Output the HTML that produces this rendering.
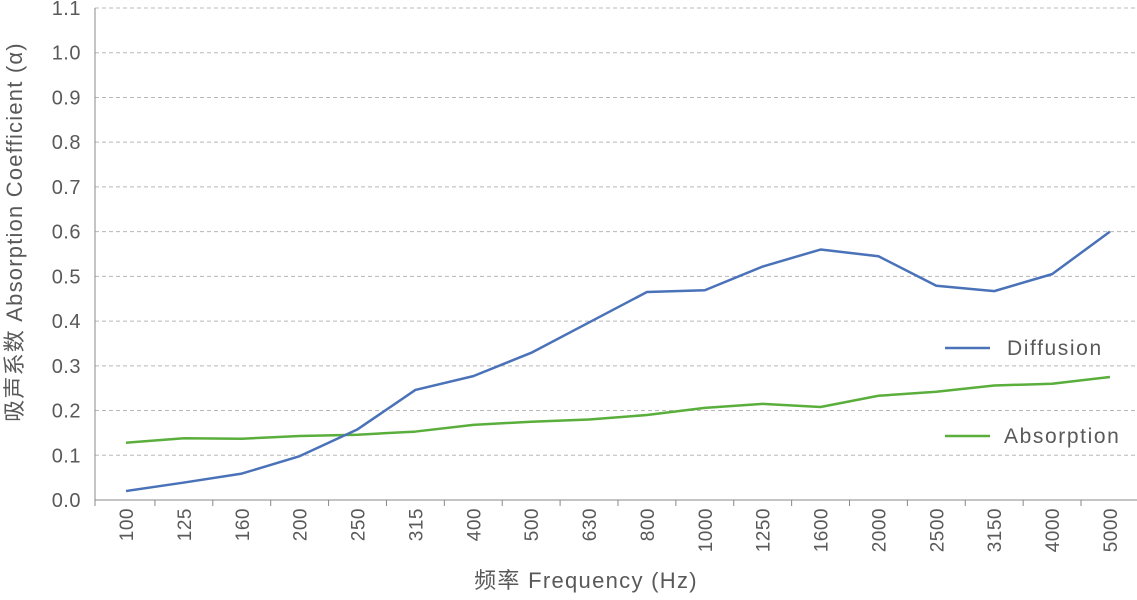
<!DOCTYPE html>
<html><head><meta charset="utf-8"><style>
html,body{margin:0;padding:0;background:#fff;}
svg text{font-family:"Liberation Sans","Noto Sans CJK SC",sans-serif;fill:#595959;}
</style></head><body>
<svg id="chart" width="1137" height="595" xmlns="http://www.w3.org/2000/svg"></svg>
<script>
const categories=["100","125","160","200","250","315","400","500","630","800","1000","1250","1600","2000","2500","3150","4000","5000"];
const diffusion=[0.02,0.039,0.059,0.098,0.158,0.246,0.277,0.329,0.397,0.465,0.469,0.522,0.56,0.545,0.479,0.467,0.505,0.6];
const absorption=[0.128,0.138,0.137,0.143,0.146,0.153,0.168,0.175,0.18,0.19,0.206,0.215,0.208,0.233,0.242,0.256,0.26,0.275];
const yTicks=["0.0","0.1","0.2","0.3","0.4","0.5","0.6","0.7","0.8","0.9","1.0","1.1"];
const NS="http://www.w3.org/2000/svg";
const svg=document.getElementById('chart');
const x0=126,dx=57.88,yBase=500,yTop=8,yMax=1.1;
const X=i=>x0+i*dx;
const Y=v=>yBase-(v/yMax)*(yBase-yTop);
function mk(t,a,p){const e=document.createElementNS(NS,t);for(const k in a)e.setAttribute(k,a[k]);(p||svg).appendChild(e);return e;}
yTicks.forEach((t,i)=>{
  const v=parseFloat(t),y=Y(v);
  if(i>0){const g=mk('line',{x1:95,x2:1137,y1:y,y2:y,stroke:'#b8b8b8','stroke-dasharray':'4,3','stroke-width':1});
  
  }
  const tx=mk('text',{x:81,y:y+7,'text-anchor':'end','font-size':20,'letter-spacing':'0.5'});
  tx.textContent=t;
  
  
});
const ax=mk('line',{x1:95,x2:95,y1:yTop,y2:yBase,stroke:'#888','stroke-width':1});


const bx=mk('line',{x1:95,x2:1137,y1:yBase,y2:yBase,stroke:'#888','stroke-width':1});


categories.forEach((c,i)=>{
  const x=X(i)+dx/2;
  const tk=mk('line',{x1:x,x2:x,y1:yBase,y2:yBase+6,stroke:'#888'});
  
  
  const t=mk('text',{x:0,y:0,'text-anchor':'end','font-size':19,'letter-spacing':'0.5',transform:`translate(${X(i)+7},508) rotate(-90)`});
  t.textContent=c;
  
  
});
const tk0=mk('line',{x1:95,x2:95,y1:yBase,y2:yBase+6,stroke:'#888'});


function series(vals,color,name){
  const p=mk('polyline',{points:vals.map((v,i)=>X(i)+','+Y(v)).join(' '),fill:'none',stroke:color,'stroke-width':2.5,'stroke-linejoin':'round'});
  
  
}
series(absorption,'#5aae3c','absorption-line');
series(diffusion,'#4a72b8','diffusion-line');
function legend(y,color,label,tx,name){
  const g=mk('g',{});
  
  
  mk('line',{x1:945,x2:990,y1:y,y2:y,stroke:color,'stroke-width':2.5},g);
  const t=mk('text',{x:tx,y:y+7,'font-size':21,'letter-spacing':'1.6'},g);
  t.textContent=label;
}
legend(348,'#4a72b8','Diffusion',1007,'legend-diffusion');
legend(436,'#5aae3c','Absorption',1004,'legend-absorption');
const yt=mk('text',{x:0,y:0,'text-anchor':'middle','font-size':22,'letter-spacing':'1.2',transform:'translate(22,232) rotate(-90)'});
yt.textContent='吸声系数 Absorption Coefficient (α)';


const xt=mk('text',{x:586,y:588,'text-anchor':'middle','font-size':22,'letter-spacing':'1.3'});
xt.textContent='频率 Frequency (Hz)';


</script>
</body></html>
